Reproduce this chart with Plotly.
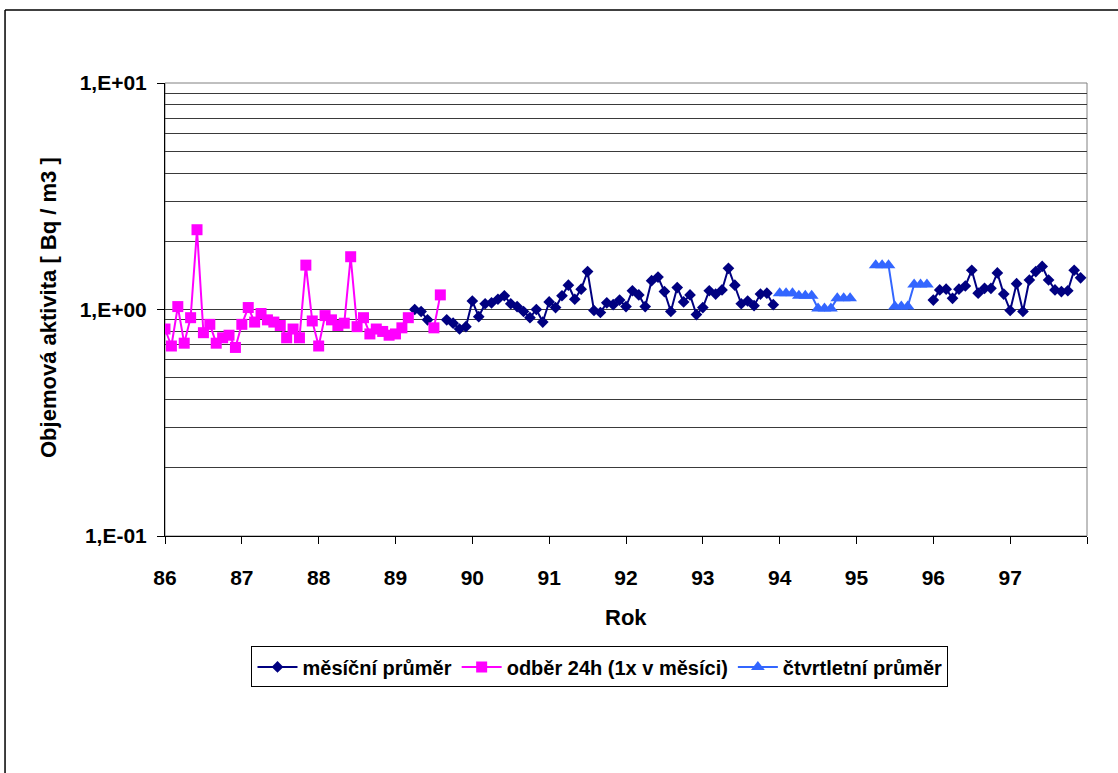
import plotly.graph_objects as go

# Monthly samples; x position of month index m is 86 + m/12 (m = 0 -> January 1986)
FIRST_YEAR = 86
year_ticks = list(range(86, 99))
year_labels = [str(y) for y in range(86, 98)] + [""]

y_major = [0.1, 1, 10]
y_major_labels = ["1,E-01", "1,E+00", "1,E+01"]
y_minor = [0.2, 0.3, 0.4, 0.5, 0.6, 0.7, 0.8, 0.9, 2, 3, 4, 5, 6, 7, 8, 9]

# měsíční průměr, part 1 (from month 39), part 2 (from month 120)
mesicni_start_1 = 39
mesicni_1 = [1.00, 0.98, 0.90, None, None, 0.90, 0.87, 0.82, 0.84, 1.09,
             0.93, 1.06, 1.07, 1.11, 1.15, 1.06, 1.03, 0.98, 0.92, 1.00,
             0.88, 1.08, 1.02, 1.15, 1.28, 1.11, 1.23, 1.47, 0.99, 0.97,
             1.07, 1.05, 1.10, 1.03, 1.21, 1.16, 1.03, 1.34, 1.39, 1.20,
             0.98, 1.25, 1.08, 1.16, 0.95, 1.02, 1.21, 1.17, 1.22, 1.52,
             1.28, 1.06, 1.09, 1.04, 1.17, 1.18, 1.05]
mesicni_start_2 = 120
mesicni_2 = [1.10, 1.22, 1.23, 1.12, 1.23, 1.27, 1.49, 1.18, 1.24, 1.24,
             1.45, 1.17, 0.99, 1.30, 0.98, 1.35, 1.47, 1.55, 1.35, 1.22,
             1.20, 1.21, 1.49, 1.38]

# odběr 24h (1x v měsíci), from month 0
odber_start = 0
odber = [0.82, 0.69, 1.03, 0.71, 0.92, 2.25, 0.79, 0.86, 0.71, 0.75,
         0.77, 0.68, 0.86, 1.02, 0.88, 0.96, 0.90, 0.88, 0.85, 0.75,
         0.82, 0.75, 1.57, 0.89, 0.69, 0.94, 0.90, 0.85, 0.87, 1.71,
         0.84, 0.92, 0.78, 0.82, 0.80, 0.77, 0.78, 0.83, 0.92, None,
         None, None, 0.83, 1.16]

# čtvrtletní průměr, from month 96
ctvrtletni_start = 96
ctvrtletni = [1.18, 1.18, 1.18, 1.15, 1.15, 1.15, 1.01, 1.01, 1.01,
              1.12, 1.12, 1.12, None, None, None, 1.57, 1.57, 1.57,
              1.03, 1.03, 1.03, 1.29, 1.29, 1.29]


def month_x(start, values):
    return [FIRST_YEAR + (start + i) / 12 for i in range(len(values))]


mx = month_x(mesicni_start_1, mesicni_1) + [None] + month_x(mesicni_start_2, mesicni_2)
my = mesicni_1 + [None] + mesicni_2

FONT = "Liberation Sans, Arial, sans-serif"

fig = go.Figure()
fig.add_trace(go.Scatter(
    x=mx, y=my, mode="lines+markers", name="měsíční průměr",
    line=dict(color="#000080", width=2),
    marker=dict(symbol="diamond", size=9, color="#000080"),
))
fig.add_trace(go.Scatter(
    x=month_x(odber_start, odber), y=odber, mode="lines+markers",
    name="odběr 24h (1x v měsíci)",
    line=dict(color="#FF00FF", width=2),
    marker=dict(symbol="square", size=11, color="#FF00FF"),
))
fig.add_trace(go.Scatter(
    x=month_x(ctvrtletni_start, ctvrtletni), y=ctvrtletni, mode="lines+markers",
    name="čtvrtletní průměr",
    line=dict(color="#3366FF", width=2),
    marker=dict(symbol="triangle-up", size=12, color="#3366FF"),
))

fig.update_xaxes(
    range=[86, 98], tickmode="array", tickvals=year_ticks, ticktext=year_labels,
    ticks="outside", ticklen=7, tickcolor="black", showline=True, linecolor="black",
    linewidth=1, showgrid=False, zeroline=False, ticklabelstandoff=16,
    tickfont=dict(family=FONT, size=21, color="black", weight="bold"),
)
fig.update_yaxes(
    type="log", range=[-1, 1], tickmode="array", tickvals=y_major, ticktext=y_major_labels,
    ticks="outside", ticklen=7, tickcolor="black", showline=True, linecolor="black",
    linewidth=1, showgrid=True, gridcolor="#3a3a3a", gridwidth=1, zeroline=False,
    ticklabelstandoff=6,
    minor=dict(tickmode="array", tickvals=y_minor, showgrid=True,
               gridcolor="#3a3a3a", gridwidth=1, ticks=""),
    tickfont=dict(family=FONT, size=21, color="black", weight="bold"),
)

fig.update_layout(
    width=1118, height=773,
    margin=dict(l=165, r=31, t=83, b=237),
    plot_bgcolor="white", paper_bgcolor="white",
    font=dict(family=FONT, size=20, color="black"),
    showlegend=True,
    legend=dict(
        orientation="h", x=0.4718, xanchor="center", y=-0.289, yanchor="middle",
        bordercolor="black", borderwidth=1, bgcolor="white",
        font=dict(family=FONT, size=20, color="black", weight="bold"),
        itemwidth=40, tracegroupgap=0,
    ),
    shapes=[
        # plot area border (right/top in grey)
        dict(type="rect", xref="paper", yref="paper", x0=0, x1=1, y0=0, y1=1,
             line=dict(color="#808080", width=1), layer="below"),
        # outer chart frame
        dict(type="line", xref="paper", yref="paper", x0=-0.1735, x1=1.2,
             y0=1.1611, y1=1.1611, line=dict(color="black", width=1.5)),
        dict(type="line", xref="paper", yref="paper", x0=-0.1735, x1=-0.1735,
             y0=1.1611, y1=-0.6, line=dict(color="black", width=1.5)),
    ],
    annotations=[
        dict(text="Rok", xref="paper", yref="paper", x=0.5, y=-0.181,
             xanchor="center", yanchor="middle", showarrow=False,
             font=dict(family=FONT, size=22, color="black", weight="bold")),
        dict(text="Objemová aktivita [ Bq / m3 ]", xref="paper", yref="paper",
             x=-0.1269, y=0.5055, xanchor="center", yanchor="middle", textangle=-90,
             showarrow=False,
             font=dict(family=FONT, size=22, color="black", weight="bold")),
    ],
)

fig.write_html("out.html")
